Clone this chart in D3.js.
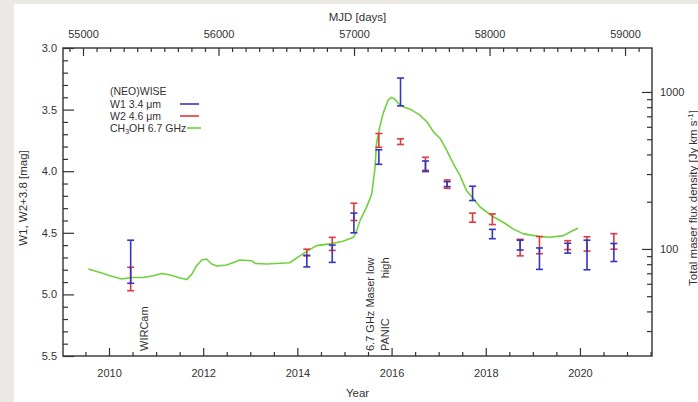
<!DOCTYPE html>
<html>
<head>
<meta charset="utf-8">
<script src="https://cdn.jsdelivr.net/npm/d3@7"></script>
<style>
  html, body { margin: 0; padding: 0; background: #ece9e4; }
  svg { display: block; }
  text { font-family: "Liberation Sans", Arial, Helvetica, sans-serif; fill: #333; }
</style>
</head>
<body>
<svg id="chart" width="698" height="402"></svg>
<script>
// (NEO)WISE epochs (decimal year)
const epochYear = [2010.46, 2014.20, 2014.74, 2015.20, 2015.73, 2016.19, 2016.72, 2017.18,
                   2017.72, 2018.14, 2018.73, 2019.14, 2019.74, 2020.15, 2020.72];
// W1 3.4 um magnitudes and errors
const w1Mag = [4.735, 4.73, 4.67, 4.42, 3.885, 3.357, 3.96, 4.105, 4.18, 4.51, 4.60, 4.71, 4.625, 4.68, 4.66];
const w1Err = [0.175, 0.047, 0.07, 0.08, 0.059, 0.113, 0.043, 0.02, 0.058, 0.038, 0.04, 0.087, 0.04, 0.12, 0.073];
// W2 4.6 um magnitudes (+3.8) and errors
const w2Mag = [4.875, 4.66, 4.59, 4.33, 3.75, 3.76, 3.94, 4.105, 4.377, 4.39, 4.62, 4.60, 4.60, 4.59, 4.57];
const w2Err = [0.095, 0.027, 0.053, 0.07, 0.056, 0.023, 0.053, 0.034, 0.037, 0.043, 0.067, 0.07, 0.036, 0.058, 0.063];

// CH3OH 6.7 GHz total maser flux density (Jy km/s)
const maserYear = [2009.56, 2009.81, 2010.02, 2010.27, 2010.48, 2010.73, 2010.94, 2011.12, 2011.30, 2011.47,
                   2011.65, 2011.76, 2011.86, 2011.97, 2012.07, 2012.18, 2012.29, 2012.50, 2012.64, 2012.78,
                   2013.03, 2013.10, 2013.35, 2013.84, 2014.06, 2014.20, 2014.41, 2014.69, 2014.97, 2015.19,
                   2015.26, 2015.33, 2015.47, 2015.58, 2015.65, 2015.68, 2015.75, 2015.82, 2015.93, 2016.00,
                   2016.07, 2016.14, 2016.25, 2016.43, 2016.60, 2016.75, 2016.89, 2017.03, 2017.17, 2017.31,
                   2017.45, 2017.59, 2017.72, 2017.88, 2018.15, 2018.37, 2018.58, 2018.80, 2019.15, 2019.36,
                   2019.65, 2019.82, 2019.96];
const maserFlux = [74.5, 70.8, 67.5, 64.3, 65.8, 65.8, 67.5, 69.8, 68.2, 65.8,
                   63.8, 69.2, 78.2, 85.1, 86.3, 80.2, 77.8, 79.0, 82.1, 85.1,
                   84.2, 80.9, 80.2, 81.7, 90.6, 96.6, 105, 107.7, 111.9, 118.7,
                   131, 151.7, 184.6, 224.8, 332.7, 469.5, 599.8, 730.6, 889, 924.6,
                   898, 846.6, 805.4, 767, 712.8, 645.7, 557, 505.7, 425.5, 349.8,
                   294.4, 236, 211.9, 185, 160.9, 148, 134.3, 124.7, 119.9, 118.7,
                   121.6, 129.6, 135.5];

// axis ticks
const yearTicks = [2010, 2012, 2014, 2016, 2018, 2020];
const mjdTicks = [55000, 56000, 57000, 58000, 59000];
const magTicks = [3.0, 3.5, 4.0, 4.5, 5.0, 5.5];
const fluxTicks = [100, 1000];

// observation notes along the time axis
const noteText = ["WIRCam", "6.7 GHz Maser low", "PANIC"];
const noteYear = [2010.75, 2015.55, 2015.86];

const svg = d3.select("#chart");
const L = 63, R = 652, T = 48, B = 356;

// paper
svg.append("rect").attr("x", 14).attr("y", 4).attr("width", 684).attr("height", 398).attr("fill", "#ffffff");

const x = d3.scaleLinear().domain([2009.023, 2021.53]).range([L, R]);
const xMjd = d3.scaleLinear().domain([54852.4, 59199]).range([L, R]);
const y = d3.scaleLinear().domain([3.0, 5.5]).range([T, B]);
const yFlux = d3.scaleLog().domain([20.8, 1906]).range([B, T]);

const axisColor = "#333";
function styleAxis(g) {
  g.select(".domain").remove();
  g.selectAll(".tick line").attr("stroke", axisColor).attr("stroke-width", 1.2);
  g.selectAll(".tick text").attr("font-size", 11).attr("fill", "#333")
    .attr("font-family", '"Liberation Sans", Arial, sans-serif');
}

// minor ticks
const yearMinor = d3.range(2009.5, 2021.51, 0.5).filter(v => !yearTicks.includes(v));
const mjdMinor = d3.range(54900, 59200, 100).filter(v => !mjdTicks.includes(v));
const magMinor = d3.range(3.1, 5.5, 0.1).map(v => +v.toFixed(1)).filter(v => !magTicks.includes(v));
const fluxMinor = [30, 40, 50, 60, 70, 80, 90, 200, 300, 400, 500, 600, 700, 800, 900];

svg.append("g").attr("transform", `translate(0,${B})`)
  .call(d3.axisBottom(x).tickValues(yearMinor).tickSize(-4).tickFormat("")).call(styleAxis);
svg.append("g").attr("transform", `translate(0,${B})`)
  .call(d3.axisBottom(x).tickValues(yearTicks).tickSize(-8).tickPadding(13).tickFormat(d3.format("d"))).call(styleAxis);

svg.append("g").attr("transform", `translate(0,${T})`)
  .call(d3.axisTop(xMjd).tickValues(mjdMinor).tickSize(-4).tickFormat("")).call(styleAxis);
svg.append("g").attr("transform", `translate(0,${T})`)
  .call(d3.axisTop(xMjd).tickValues(mjdTicks).tickSize(-8).tickPadding(10).tickFormat(d3.format("d"))).call(styleAxis);

svg.append("g").attr("transform", `translate(${L},0)`)
  .call(d3.axisLeft(y).tickValues(magMinor).tickSize(-5).tickFormat("")).call(styleAxis);
svg.append("g").attr("transform", `translate(${L},0)`)
  .call(d3.axisLeft(y).tickValues(magTicks).tickSize(-11).tickPadding(6).tickFormat(d3.format(".1f"))).call(styleAxis);

svg.append("g").attr("transform", `translate(${R},0)`)
  .call(d3.axisRight(yFlux).tickValues(fluxMinor).tickSize(-5).tickFormat("")).call(styleAxis);
svg.append("g").attr("transform", `translate(${R},0)`)
  .call(d3.axisRight(yFlux).tickValues(fluxTicks).tickSize(-10).tickPadding(8).tickFormat(d3.format("d"))).call(styleAxis);

// frame
svg.append("rect").attr("x", L).attr("y", T).attr("width", R - L).attr("height", B - T)
  .attr("fill", "none").attr("stroke", axisColor).attr("stroke-width", 1.4);

// axis titles
svg.append("text").attr("x", (L + R) / 2).attr("y", 397).attr("text-anchor", "middle")
  .attr("font-size", 11.5).text("Year");
svg.append("text").attr("x", (L + R) / 2).attr("y", 21).attr("text-anchor", "middle")
  .attr("font-size", 11.5).text("MJD [days]");
svg.append("text").attr("transform", "translate(27,198) rotate(-90)").attr("text-anchor", "middle")
  .attr("font-size", 11.5).text("W1, W2+3.8 [mag]");
const rt = svg.append("text").attr("transform", "translate(697,198) rotate(-90)").attr("text-anchor", "middle")
  .attr("font-size", 11.5);
rt.append("tspan").text("Total maser flux density [Jy km s");
rt.append("tspan").attr("dy", -4).attr("font-size", 8).text("-1");
rt.append("tspan").attr("dy", 4).text("]");

// maser light curve
const line = d3.line().x((d, i) => x(maserYear[i])).y(d => yFlux(d)).curve(d3.curveLinear);
svg.append("path").datum(maserFlux).attr("d", line).attr("fill", "none")
  .attr("stroke", "#6fd23c").attr("stroke-width", 1.6).attr("stroke-linejoin", "round");

// error bars
function errorBars(mag, err, color) {
  const g = svg.append("g").attr("stroke", color).attr("stroke-width", 1.6).attr("fill", "none");
  const cap = 3.5;
  epochYear.forEach((yr, i) => {
    const cx = x(yr), y0 = y(mag[i] - err[i]), y1 = y(mag[i] + err[i]);
    g.append("line").attr("x1", cx).attr("x2", cx).attr("y1", y0).attr("y2", y1);
    g.append("line").attr("x1", cx - cap).attr("x2", cx + cap).attr("y1", y0).attr("y2", y0);
    g.append("line").attr("x1", cx - cap).attr("x2", cx + cap).attr("y1", y1).attr("y2", y1);
  });
}
errorBars(w2Mag, w2Err, "#e03a3a");
errorBars(w1Mag, w1Err, "#3535c0");

// notes
const noteBottom = B - 5;
const notes = noteText.map((t, i) => svg.append("text")
  .attr("transform", `translate(${x(noteYear[i]) + 4},${noteBottom}) rotate(-90)`)
  .attr("font-size", 11).text(t));
const lowLen = notes[1].node().getComputedTextLength();
svg.append("text")
  .attr("transform", `translate(${x(noteYear[2]) + 4},${noteBottom - lowLen}) rotate(-90)`)
  .attr("text-anchor", "end").attr("font-size", 11).text("high");

// legend
const lg = svg.append("g").attr("font-size", 10.5);
lg.append("text").attr("x", 110).attr("y", 95).text("(NEO)WISE");
lg.append("text").attr("x", 110).attr("y", 107.5).text("W1 3.4 \u03bcm");
lg.append("text").attr("x", 110).attr("y", 119.5).text("W2 4.6 \u03bcm");
const ch = lg.append("text").attr("x", 110).attr("y", 131.5);
ch.append("tspan").text("CH");
ch.append("tspan").attr("dy", 2.5).attr("font-size", 7).text("3");
ch.append("tspan").attr("dy", -2.5).text("OH  6.7 GHz");
lg.append("line").attr("x1", 180).attr("x2", 199).attr("y1", 104).attr("y2", 104).attr("stroke", "#3535c0").attr("stroke-width", 1.6);
lg.append("line").attr("x1", 180).attr("x2", 199).attr("y1", 116).attr("y2", 116).attr("stroke", "#e03a3a").attr("stroke-width", 1.6);
lg.append("line").attr("x1", 187).attr("x2", 201).attr("y1", 128).attr("y2", 128).attr("stroke", "#6fd23c").attr("stroke-width", 1.6);
</script>
</body>
</html>
